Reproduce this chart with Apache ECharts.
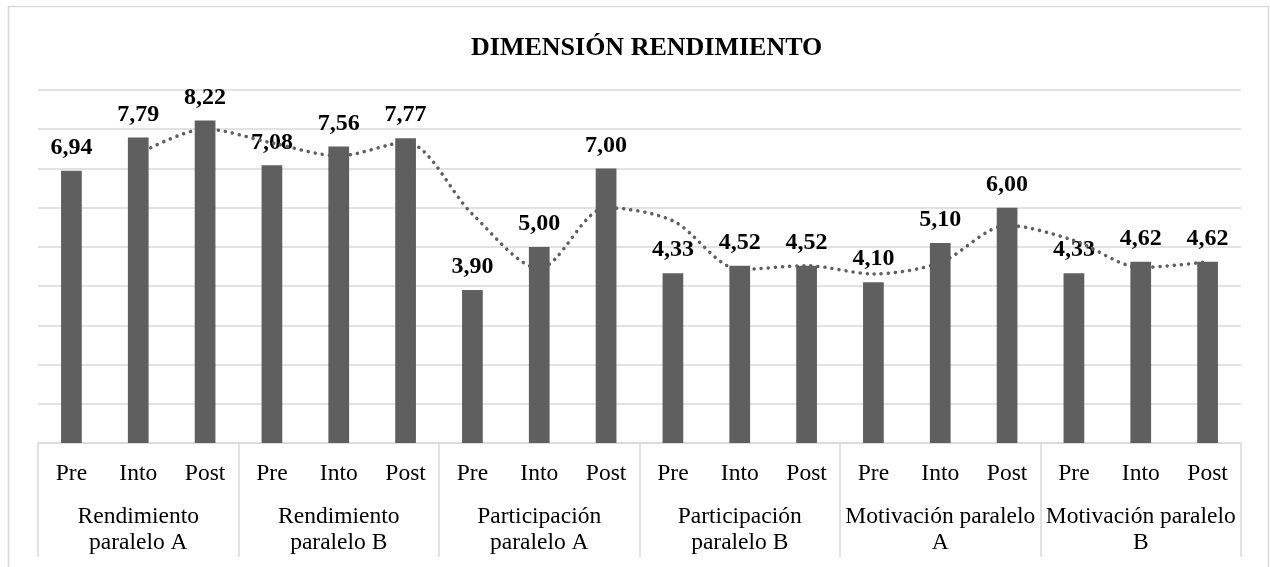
<!DOCTYPE html>
<html>
<head>
<meta charset="utf-8">
<script src="https://cdn.jsdelivr.net/npm/echarts@6/dist/echarts.min.js"></script>
<style>html,body{margin:0;padding:0;background:#fff;}#c{width:1270px;height:567px;}</style>
</head>
<body>
<div id="c"></div>
<script>
const titleText = 'DIMENSIÓN RENDIMIENTO';
const phases = ['Pre','Into','Post','Pre','Into','Post','Pre','Into','Post','Pre','Into','Post','Pre','Into','Post','Pre','Into','Post'];
const groups = ['Rendimiento\nparalelo A','Rendimiento\nparalelo B','Participación\nparalelo A','Participación\nparalelo B','Motivación paralelo\nA','Motivación paralelo\nB'];
const values = [6.94,7.79,8.22,7.08,7.56,7.77,3.90,5.00,7.00,4.33,4.52,4.52,4.10,5.10,6.00,4.33,4.62,4.62];
const yTicks = {min:0, max:9, interval:1};

// 2-period moving average trendline (as in the source chart)
const trend = values.map((v,i)=> i===0 ? null : +( (values[i-1]+v)/2 ).toFixed(3));

const font = '"Liberation Serif","Times New Roman",serif';
const chart = echarts.init(document.getElementById('c'));
chart.setOption({
  animation:false,
  title:{text:titleText,left:466,top:30,textStyle:{fontFamily:font,fontSize:26,fontWeight:'bold',color:'#000'}},
  graphic:[{type:'rect',shape:{x:8.5,y:6.5,width:1260,height:620},style:{fill:'none',stroke:'#d9d9d9',lineWidth:1.5},silent:true}],
  grid:{left:38,right:29,top:90,bottom:124,containLabel:false},
  xAxis:[
    {type:'category',data:phases,position:'bottom',axisLine:{show:true,lineStyle:{color:'#d9d9d9',width:1.5}},axisTick:{show:false},
     axisLabel:{interval:0,margin:19,fontFamily:font,fontSize:23.5,color:'#000'}},
    {type:'category',data:groups,position:'bottom',axisLine:{show:false},
     axisTick:{show:true,length:114,lineStyle:{color:'#d9d9d9',width:1.5}},
     axisLabel:{interval:0,margin:61,fontFamily:font,fontSize:23.5,lineHeight:26,color:'#000',align:'center'}}
  ],
  yAxis:{type:'value',min:yTicks.min,max:yTicks.max,interval:yTicks.interval,axisLabel:{show:false},axisLine:{show:false},axisTick:{show:false},
    splitLine:{lineStyle:{color:'#d9d9d9',width:1.5}}},
  series:[
    {type:'bar',data:values,barWidth:'31%',itemStyle:{color:'#5f5f5f'},
     label:{show:true,position:'top',distance:11,fontFamily:font,fontSize:24,fontWeight:'bold',color:'#000',
       formatter:p=>p.value.toFixed(2).replace('.',',')}},
    {type:'line',data:trend,smooth:0.3,symbol:'none',connectNulls:false,z:3,
     lineStyle:{color:'#5f5f5f',width:3.5,type:[0.1,7],cap:'round'}}
  ]
});
</script>
</body>
</html>
